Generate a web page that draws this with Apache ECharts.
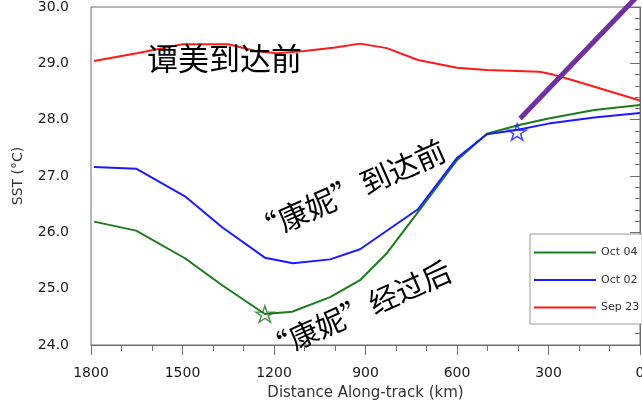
<!DOCTYPE html>
<html>
<head>
<meta charset="utf-8">
<script src="https://cdn.jsdelivr.net/npm/echarts@6/dist/echarts.min.js"></script>
<style>
  html, body { margin: 0; padding: 0; background: #fff; }
  #chart { width: 642px; height: 404px; }
</style>
</head>
<body>
<div id="chart"></div>
<script>
// Along-track distance (km) and SST (°C) for each date
const distOct04 = [1790, 1652, 1492, 1370, 1230, 1141, 1016, 918, 830, 728, 600, 502, 400, 300, 150, 0];
const sstOct04  = [26.19, 26.03, 25.54, 25.06, 24.55, 24.59, 24.85, 25.15, 25.63, 26.36, 27.28, 27.75, 27.90, 28.02, 28.17, 28.26];

const distOct02 = [1790, 1652, 1492, 1370, 1230, 1138, 1016, 918, 728, 600, 502, 400, 300, 150, 0];
const sstOct02  = [27.16, 27.13, 26.64, 26.09, 25.55, 25.45, 25.52, 25.70, 26.41, 27.32, 27.74, 27.82, 27.93, 28.04, 28.12];

const distSep23 = [1790, 1650, 1500, 1350, 1260, 1190, 1100, 1000, 918, 830, 728, 600, 502, 330, 285, 220, 0];
const sstSep23  = [29.04, 29.18, 29.34, 29.34, 29.22, 29.18, 29.22, 29.28, 29.35, 29.27, 29.06, 28.92, 28.88, 28.85, 28.80, 28.70, 28.34];

// Storm track segment and the two marked positions
const trackDist = [393, 0];
const trackSst  = [28.02, 30.24];
const starOct02 = [403, 27.78];
const starOct04 = [1230, 24.55];

// Axis ticks
const xTicks = [1800, 1500, 1200, 900, 600, 300, 0];
const yTicks = [24, 25, 26, 27, 28, 29, 30];

const pair = (xs, ys) => xs.map((x, i) => [x, ys[i]]);

const STAR = 'path://M100 0 L122.45 69.1 L195.1 69.1 L136.3 111.8 L158.8 180.9 L100 138.2 L41.2 180.9 L63.7 111.8 L4.9 69.1 L77.55 69.1 Z';
const LEGEND_LINE = 'path://M0 0 L62 0 L62 2 L0 2 Z';
const AXIS_GREY = '#6e6e6e';
const TICK_FONT = '"DejaVu Sans", sans-serif';
const CJK_FONT = '"Noto Sans CJK SC", sans-serif';

const chart = echarts.init(document.getElementById('chart'), null, { renderer: 'canvas' });

chart.setOption({
  animation: false,
  backgroundColor: '#fff',
  grid: {
    left: 91, right: 2, top: 7, bottom: 59,
    show: true, borderColor: AXIS_GREY, borderWidth: 1,
    containLabel: false, outerBoundsMode: 'none'
  },
  xAxis: {
    type: 'value', inverse: true,
    min: xTicks[xTicks.length - 1], max: xTicks[0], interval: 300,
    name: 'Distance Along-track (km)', nameLocation: 'middle', nameGap: 41,
    nameTextStyle: { fontFamily: TICK_FONT, fontSize: 15, color: '#333' },
    axisLine: { lineStyle: { color: AXIS_GREY, width: 1 } },
    axisTick: { show: true, inside: false, length: 10, lineStyle: { color: AXIS_GREY } },
    minorTick: { show: true, splitNumber: 3, length: 6, lineStyle: { color: AXIS_GREY } },
    axisLabel: { margin: 21, fontFamily: TICK_FONT, fontSize: 14, color: '#1a1a1a',
                 formatter: v => String(v) },
    splitLine: { show: false }
  },
  yAxis: {
    type: 'value',
    min: yTicks[0], max: yTicks[yTicks.length - 1], interval: 1,
    name: 'SST (°C)', nameLocation: 'middle', nameGap: 66, nameRotate: 90,
    nameTextStyle: { fontFamily: TICK_FONT, fontSize: 14, color: '#333' },
    axisLine: { show: true, lineStyle: { color: AXIS_GREY, width: 1 } },
    axisTick: { show: true, inside: false, length: 10, lineStyle: { color: AXIS_GREY } },
    minorTick: { show: true, splitNumber: 5, length: 5, lineStyle: { color: AXIS_GREY } },
    axisLabel: { margin: 22, fontFamily: TICK_FONT, fontSize: 14, color: '#1a1a1a',
                 formatter: v => v.toFixed(1) },
    splitLine: { show: false }
  },
  legend: {
    orient: 'vertical', left: 530, top: 234,
    data: ['Oct 04', 'Oct 02', 'Sep 23'],
    icon: LEGEND_LINE, symbolKeepAspect: true,
    itemWidth: 62, itemHeight: 14, itemGap: 16.5,
    padding: [13, 3, 11, 4],
    borderColor: '#999', borderWidth: 1, backgroundColor: '#fff',
    textStyle: { fontFamily: TICK_FONT, fontSize: 11, color: '#333' }
  },
  series: [
    {
      name: 'Sep 23', type: 'line', data: pair(distSep23, sstSep23),
      symbol: 'none', lineStyle: { color: '#ff1a1a', width: 2 }, itemStyle: { color: '#ff1a1a' }, z: 2
    },
    {
      name: 'Oct 04', type: 'line', data: pair(distOct04, sstOct04),
      symbol: 'none', lineStyle: { color: '#1e7a1e', width: 2 }, itemStyle: { color: '#1e7a1e' }, z: 3
    },
    {
      name: 'Oct 02', type: 'line', data: pair(distOct02, sstOct02),
      symbol: 'none', lineStyle: { color: '#1a1aff', width: 2 }, itemStyle: { color: '#1a1aff' }, z: 4
    },
    {
      name: 'track', type: 'line', data: pair(trackDist, trackSst),
      symbol: 'none', clip: false, lineStyle: { color: '#7030a0', width: 5, cap: 'butt' }, z: 5
    },
    {
      name: 'star-oct04', type: 'scatter', data: [starOct04],
      symbol: STAR, symbolSize: [18, 17], symbolKeepAspect: true,
      itemStyle: { color: 'rgba(255,255,255,0)', borderColor: '#1e7a1e', borderWidth: 1.5 }, z: 6
    },
    {
      name: 'star-oct02', type: 'scatter', data: [starOct02],
      symbol: STAR, symbolSize: [18, 17], symbolKeepAspect: true,
      itemStyle: { color: 'rgba(255,255,255,0)', borderColor: '#1a1aff', borderWidth: 1.5 }, z: 6
    }
  ],
  graphic: [
    {
      type: 'text', x: 147, y: 58, z: 10,
      style: { text: '谭美到达前', font: '31px ' + CJK_FONT, fill: '#000', align: 'left', verticalAlign: 'middle' }
    },
    {
      type: 'text', x: 252, y: 234, rotation: 24 * Math.PI / 180, z: 10,
      style: { text: '“康妮”到达前', font: '30px ' + CJK_FONT, fill: '#000', align: 'left', verticalAlign: 'middle' }
    },
    {
      type: 'text', x: 264, y: 352, rotation: 24 * Math.PI / 180, z: 10,
      style: { text: '“康妮”经过后', font: '29px ' + CJK_FONT, fill: '#000', align: 'left', verticalAlign: 'middle' }
    }
  ]
});
</script>
</body>
</html>
